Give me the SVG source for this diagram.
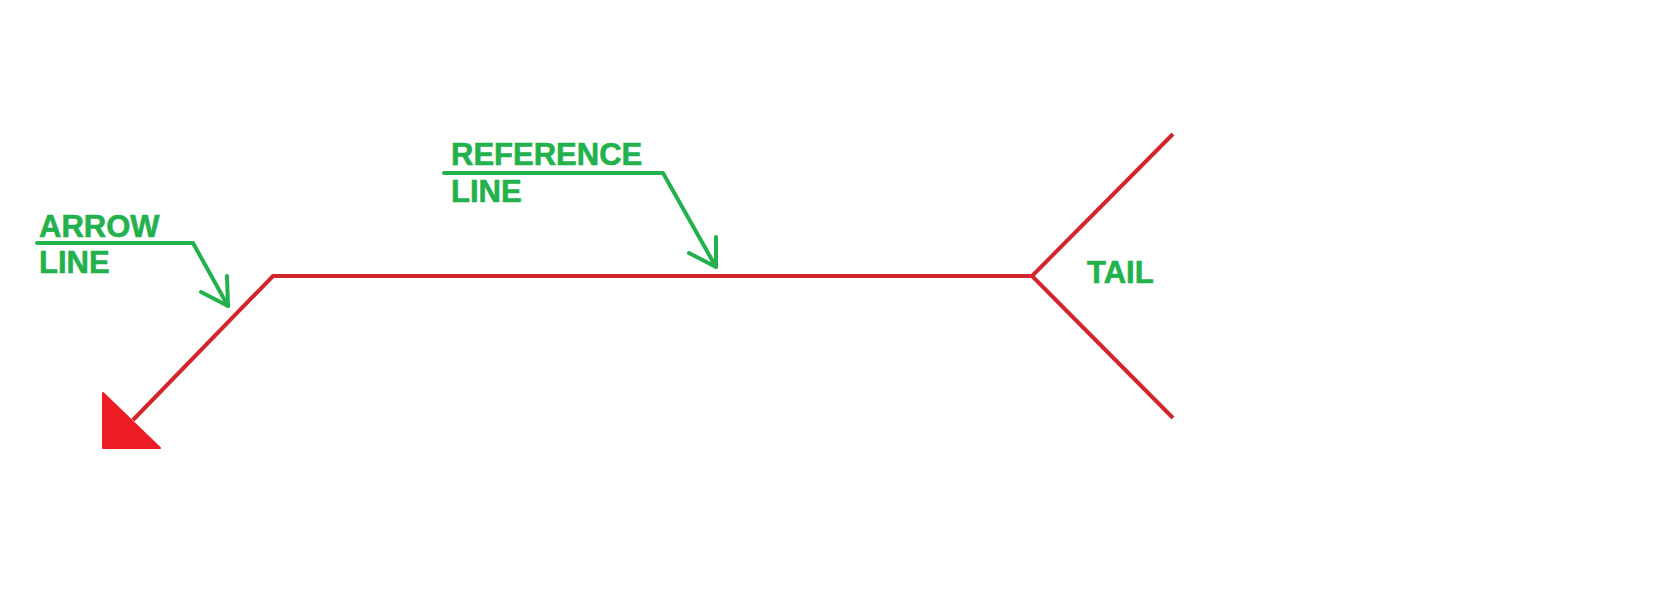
<svg xmlns="http://www.w3.org/2000/svg" width="1654" height="599" viewBox="0 0 1654 599">
<style>
.lbl{font-family:"Liberation Sans",Arial,sans-serif;font-weight:bold;font-size:31px;fill:#22b14c;stroke:#22b14c;stroke-width:0.6}
.red{fill:none;stroke:#d3262c;stroke-width:4;stroke-linejoin:miter}
.grn{fill:none;stroke:#22b14c;stroke-width:4;stroke-linecap:round;stroke-linejoin:round}
</style>
<rect width="1654" height="599" fill="#ffffff"/>
<g id="connectors">
<polyline class="red" points="133,420 273,276 1032,276"/>
<polyline class="red" points="1173,134 1032,276 1173,418"/>
<polygon points="103,393 103,448 160,448" fill="#ed1c24" stroke="#ed1c24" stroke-width="2" stroke-linejoin="round"/>
</g>
<g id="arrow-line-label">
<text class="lbl" x="39" y="237">ARROW</text>
<text class="lbl" x="39" y="273">LINE</text>
<polyline class="grn" points="37,243 193,243 228,306"/>
<polyline class="grn" points="227,276 228,306 201,292"/>
</g>
<g id="reference-line-label">
<text class="lbl" x="451" y="165">REFERENCE</text>
<text class="lbl" x="451" y="202">LINE</text>
<polyline class="grn" points="444,173 663,173 716,267"/>
<polyline class="grn" points="716,237 716,267 689,253"/>
</g>
<g id="tail-label">
<text class="lbl" x="1087" y="283">TAIL</text>
</g>
</svg>
